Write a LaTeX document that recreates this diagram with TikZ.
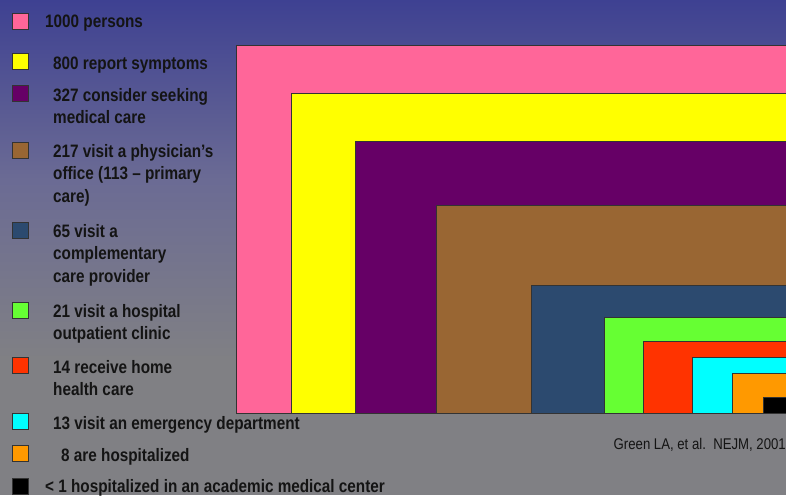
\documentclass[tikz,border=0pt]{standalone}
\usepackage{fontspec}
\setmainfont{Liberation Sans}[FakeStretch=0.85]
\definecolor{bgtop}{HTML}{3E4192}
\definecolor{bgmid}{HTML}{6B6B94}
\definecolor{bgbot}{HTML}{808084}
\definecolor{cpink}{HTML}{FF6699}
\definecolor{cyellow}{HTML}{FFFF00}
\definecolor{cpurple}{HTML}{660066}
\definecolor{cbrown}{HTML}{996633}
\definecolor{cnavy}{HTML}{2C4A6F}
\definecolor{cgreen}{HTML}{66FF33}
\definecolor{cred}{HTML}{FF3300}
\definecolor{ccyan}{HTML}{00FFFF}
\definecolor{corange}{HTML}{FF9900}
\definecolor{cblack}{HTML}{000000}
\definecolor{txt}{HTML}{141414}
\newcommand{\mlines}[1]{\begin{tabular}[t]{@{}l@{}}#1\end{tabular}}
\begin{document}
\begin{tikzpicture}[x=1pt,y=-1pt,
  blk/.style={draw=black!80,line width=0.8pt},
  legsq/.style={draw=black!80,line width=0.8pt,minimum size=16pt,inner sep=0pt,anchor=north west},
  legtxt/.style={anchor=base west,inner sep=0pt,text=txt,font=\fontsize{18}{22.6}\selectfont\bfseries},
  cite/.style={anchor=base east,inner sep=0pt,text=txt,font=\fontsize{15.5}{18}\selectfont}]
\useasboundingbox (0,0) rectangle (786,495);
\clip (0,0) rectangle (786,495);
\shade[top color=bgtop,bottom color=bgbot,middle color=bgmid] (0,0) rectangle (786,360);
\fill[bgbot] (0,359) rectangle (786,495);
% nested rectangles
\draw[blk,fill=cpink]   (236,45)  rectangle (800,413);
\draw[blk,fill=cyellow] (291,93)  rectangle (800,413);
\draw[blk,fill=cpurple] (355,141) rectangle (800,413);
\draw[blk,fill=cbrown]  (436,205) rectangle (800,413);
\draw[blk,fill=cnavy]   (531,285) rectangle (800,413);
\draw[blk,fill=cgreen]  (604,317) rectangle (800,413);
\draw[blk,fill=cred]    (643,341) rectangle (800,413);
\draw[blk,fill=ccyan]   (692,357) rectangle (800,413);
\draw[blk,fill=corange] (732,373) rectangle (800,413);
\draw[blk,fill=cblack]  (763,397) rectangle (800,413);
% legend squares
\node[legsq,fill=cpink]   (s1)  at (12,13)  {};
\node[legsq,fill=cyellow] (s2)  at (12,53)  {};
\node[legsq,fill=cpurple] (s3)  at (12,85)  {};
\node[legsq,fill=cbrown]  (s4)  at (12,142) {};
\node[legsq,fill=cnavy]   (s5)  at (12,222) {};
\node[legsq,fill=cgreen]  (s6)  at (12,302) {};
\node[legsq,fill=cred]    (s7)  at (12,357) {};
\node[legsq,fill=ccyan]   (s8)  at (12,413) {};
\node[legsq,fill=corange] (s9)  at (12,445) {};
\node[legsq,fill=cblack]  (s10) at (12,478) {};
% legend texts
\node[legtxt] (t1)  at (45,28)  {1000 persons};
\node[legtxt] (t2)  at (53,69)  {800 report symptoms};
\node[legtxt] (t3)  at (53,101) {\mlines{327 consider seeking\\medical care}};
\node[legtxt] (t4)  at (53,157) {\mlines{217 visit a physician’s\\office (113 – primary\\care)}};
\node[legtxt] (t5)  at (53,237) {\mlines{65 visit a\\complementary\\care provider}};
\node[legtxt] (t6)  at (53,317) {\mlines{21 visit a hospital\\outpatient clinic}};
\node[legtxt] (t7)  at (53,373) {\mlines{14 receive home\\health care}};
\node[legtxt] (t8)  at (53,429) {13 visit an emergency department};
\node[legtxt] (t9)  at (61,461) {8 are hospitalized};
\node[legtxt] (t10) at (45,492) {< 1 hospitalized in an academic medical center};
\node[cite] (c) at (786,449) {Green LA, et al.\ \ NEJM, 2001};
\end{tikzpicture}
\end{document}
